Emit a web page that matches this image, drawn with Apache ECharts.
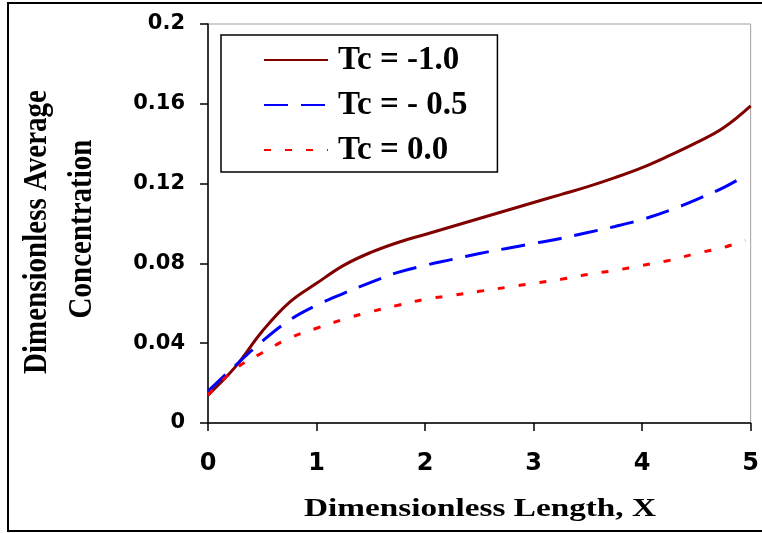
<!DOCTYPE html>
<html>
<head>
<meta charset="utf-8">
<script src="https://cdn.jsdelivr.net/npm/echarts@6/dist/echarts.min.js"></script>
<style>
  html, body { margin: 0; padding: 0; background: #fff; }
  #main { width: 762px; height: 533px; }
</style>
</head>
<body>
<div id="main"></div>
<script>
var chartDom = document.getElementById('main');
var myChart = echarts.init(chartDom);
var option;

// values
const seriesNames = ['Tc = -1.0', 'Tc = - 0.5', 'Tc = 0.0'];
const xDark = [0, 0.25, 0.5, 0.75, 1, 1.25, 1.5, 1.75, 2, 2.25, 2.5, 2.75, 3, 3.25, 3.5, 3.75, 4, 4.25, 4.5, 4.75, 5];
const yDark = [0.014, 0.028, 0.046, 0.0605, 0.070, 0.079, 0.0855, 0.0905, 0.0945, 0.0985, 0.1025, 0.1065, 0.1105, 0.1145, 0.1185, 0.123, 0.128, 0.134, 0.1405, 0.148, 0.159];
const xRest = [0, 0.25, 0.5, 0.75, 1, 1.25, 1.5, 1.75, 2, 2.25, 2.5, 2.75, 3, 3.25, 3.5, 3.75, 4, 4.25, 4.5, 4.75, 4.95];
const yMid = [0.016, 0.0287, 0.041, 0.0515, 0.059, 0.065, 0.0705, 0.0755, 0.079, 0.082, 0.085, 0.0875, 0.090, 0.0925, 0.0955, 0.0985, 0.102, 0.1065, 0.112, 0.118, 0.124];
const yZero = [0.014, 0.027, 0.0352, 0.0425, 0.0475, 0.052, 0.0558, 0.059, 0.062, 0.064, 0.066, 0.068, 0.070, 0.072, 0.0745, 0.0765, 0.079, 0.0815, 0.085, 0.088, 0.0915];

function pairs(xs, ys) {
  return xs.map(function (x, i) {
    return [x, ys[i]];
  });
}

const serifBold = 'bold 29px "Liberation Serif", "Times New Roman", serif';

option = {
  animation: false,
  backgroundColor: '#fff',
  grid: {
    left: 208,
    right: 6,
    top: 24,
    bottom: 110,
    show: true,
    borderColor: '#a0a0a0',
    borderWidth: 1
  },
  legend: {
    orient: 'vertical',
    left: 221,
    top: 35,
    padding: [8, 30, 5, 42],
    itemWidth: 64,
    itemHeight: 34,
    itemGap: 11,
    borderColor: '#000',
    borderWidth: 1.5,
    data: seriesNames,
    itemStyle: { opacity: 0, borderWidth: 0 },
    textStyle: {
      fontFamily: '"Liberation Serif", "Times New Roman", serif',
      fontWeight: 'bold',
      fontSize: 33,
      lineHeight: 34,
      color: '#000',
      padding: [0, 0, 0, 5]
    }
  },
  xAxis: {
    type: 'value',
    min: 0,
    max: 5,
    interval: 1,
    splitLine: { show: false },
    axisLine: { lineStyle: { color: '#000', width: 1.5 } },
    axisTick: { inside: false, length: 8, lineStyle: { color: '#000', width: 1.5 } },
    axisLabel: {
      margin: 29,
      color: '#000',
      fontFamily: '"DejaVu Sans", sans-serif',
      fontWeight: 'bold',
      fontSize: 24
    }
  },
  yAxis: {
    type: 'value',
    min: 0,
    max: 0.2,
    interval: 0.04,
    splitLine: { show: false },
    axisLine: { lineStyle: { color: '#000', width: 1.5 } },
    axisTick: { inside: false, length: 8, lineStyle: { color: '#000', width: 1.5 } },
    axisLabel: {
      margin: 23,
      color: '#000',
      fontFamily: '"DejaVu Sans", sans-serif',
      fontWeight: 'bold',
      fontSize: 21
    }
  },
  graphic: [
    {
      type: 'rect',
      shape: { x: 8, y: 3, width: 780, height: 528 },
      style: { fill: null, stroke: '#000', lineWidth: 2 },
      silent: true
    },
    {
      type: 'text',
      x: 37,
      y: 232,
      rotation: Math.PI / 2,
      scaleY: 1.18,
      style: {
        text: 'Dimensionless Average',
        font: serifBold,
        fill: '#000',
        align: 'center',
        verticalAlign: 'middle',
        textAlign: 'center',
        textVerticalAlign: 'middle'
      }
    },
    {
      type: 'text',
      x: 82,
      y: 229,
      rotation: Math.PI / 2,
      scaleY: 1.18,
      style: {
        text: 'Concentration',
        font: serifBold,
        fill: '#000',
        align: 'center',
        verticalAlign: 'middle',
        textAlign: 'center',
        textVerticalAlign: 'middle'
      }
    },
    {
      type: 'text',
      x: 480,
      y: 510,
      scaleX: 1.33,
      style: {
        text: 'Dimensionless Length, X',
        font: 'bold 25px "Liberation Serif", "Times New Roman", serif',
        fill: '#000',
        align: 'center',
        verticalAlign: 'middle',
        textAlign: 'center',
        textVerticalAlign: 'middle'
      }
    }
  ],
  series: [
    {
      name: seriesNames[0],
      type: 'line',
      data: pairs(xDark, yDark),
      smooth: 0.4,
      symbol: 'none',
      lineStyle: { color: '#800000', width: 3 },
      itemStyle: { color: '#800000' }
    },
    {
      name: seriesNames[1],
      type: 'line',
      data: pairs(xRest, yMid),
      smooth: 0.4,
      symbol: 'none',
      lineStyle: { color: '#0000ff', width: 3, type: [24, 13] },
      itemStyle: { color: '#0000ff' }
    },
    {
      name: seriesNames[2],
      type: 'line',
      data: pairs(xRest, yZero),
      smooth: 0.4,
      symbol: 'none',
      lineStyle: { color: '#ff0000', width: 3, type: [7, 14] },
      itemStyle: { color: '#ff0000' }
    }
  ]
};

option && myChart.setOption(option);
</script>
</body>
</html>
